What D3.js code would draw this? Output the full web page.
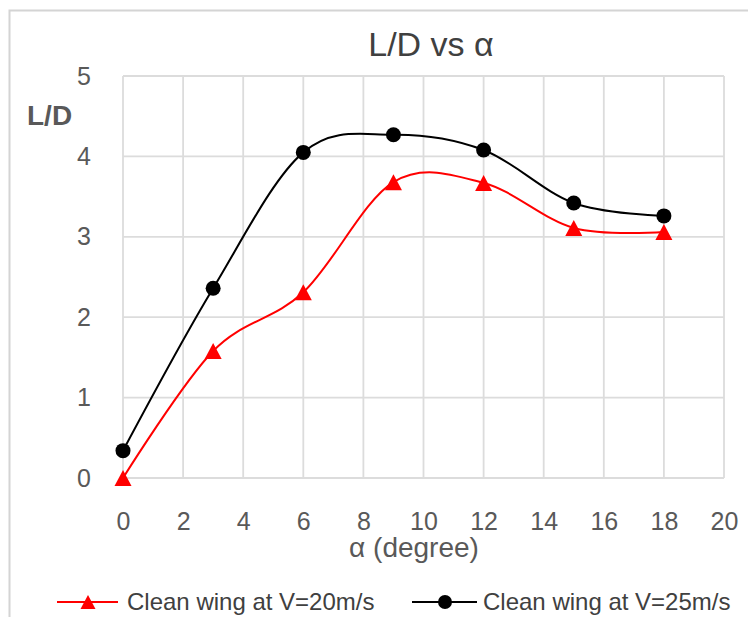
<!DOCTYPE html>
<html>
<head>
<meta charset="utf-8">
<script src="https://cdn.jsdelivr.net/npm/d3@7"></script>
<style>
  html, body { margin: 0; padding: 0; background: #fff; }
  svg { display: block; font-family: "Liberation Sans", Arial, sans-serif; }
</style>
</head>
<body>
<svg id="chart" width="748" height="617"></svg>
<script>
// Angle of attack (degrees) and lift-to-drag ratios
const alpha = [0, 3, 6, 9, 12, 15, 18];
const ldV20 = [0, 1.58, 2.31, 3.68, 3.67, 3.11, 3.06];
const ldV25 = [0.34, 2.36, 4.05, 4.27, 4.08, 3.42, 3.26];
const xTicks = [0, 2, 4, 6, 8, 10, 12, 14, 16, 18, 20];
const yTicks = [0, 1, 2, 3, 4, 5];
const seriesNames = ["Clean wing at V=20m/s", "Clean wing at V=25m/s"];

const svg = d3.select("#chart");

// chart frame
svg.append("rect")
  .attr("x", 9.5).attr("y", 10.5)
  .attr("width", 760).attr("height", 640)
  .attr("fill", "#fff")
  .attr("stroke", "#d4d4d4").attr("stroke-width", 2);

const plot = { left: 123, right: 724, top: 76, bottom: 478 };

const x = d3.scaleLinear().domain([0, 20]).range([plot.left, plot.right]);
const y = d3.scaleLinear().domain([0, 5]).range([plot.bottom, plot.top]);

// gridlines
const grid = svg.append("g").attr("stroke", "#dcdcdc").attr("stroke-width", 1.8);
grid.selectAll("line.v").data(xTicks).join("line")
  .attr("x1", d => x(d)).attr("x2", d => x(d))
  .attr("y1", plot.top).attr("y2", plot.bottom);
grid.selectAll("line.h").data(yTicks).join("line")
  .attr("x1", plot.left).attr("x2", plot.right)
  .attr("y1", d => y(d)).attr("y2", d => y(d));

// axes (labels only)
const xAxis = svg.append("g")
  .attr("transform", `translate(0,${plot.bottom})`)
  .call(d3.axisBottom(x).tickValues(xTicks).tickFormat(d3.format("d")).tickSize(0).tickPadding(34));
const yAxis = svg.append("g")
  .attr("transform", `translate(${plot.left},0)`)
  .call(d3.axisLeft(y).tickValues(yTicks).tickFormat(d3.format("d")).tickSize(0).tickPadding(32));
[xAxis, yAxis].forEach(a => {
  a.select(".domain").remove();
  a.selectAll("text")
    .attr("fill", "#595959")
    .style("font-size", "25px")
    .style("font-family", '"Liberation Sans", Arial, sans-serif');
});

// title and axis titles
svg.append("text")
  .attr("x", 431).attr("y", 56)
  .attr("text-anchor", "middle")
  .attr("fill", "#404040")
  .style("font-size", "34px")
  .text("L/D vs α");

svg.append("text")
  .attr("x", 27).attr("y", 125)
  .attr("fill", "#595959")
  .style("font-size", "28px")
  .style("font-weight", "bold")
  .text("L/D");

svg.append("text")
  .attr("x", 414).attr("y", 557)
  .attr("text-anchor", "middle")
  .attr("fill", "#595959")
  .style("font-size", "28px")
  .text("α (degree)");

// smoothed series lines
const line = d3.line().curve(d3.curveCardinal.tension(0));
const pts = vals => alpha.map((a, i) => [x(a), y(vals[i])]);

const triangle = (cx, cy, w, h) =>
  `M${cx},${cy - h / 2}L${cx + w / 2},${cy + h / 2}L${cx - w / 2},${cy + h / 2}Z`;

svg.append("path")
  .attr("d", line(pts(ldV20)))
  .attr("fill", "none").attr("stroke", "#ff0000").attr("stroke-width", 2);
svg.append("path")
  .attr("d", line(pts(ldV25)))
  .attr("fill", "none").attr("stroke", "#000").attr("stroke-width", 2);

svg.append("g").selectAll("path").data(pts(ldV20)).join("path")
  .attr("d", d => triangle(d[0], d[1], 17, 16))
  .attr("fill", "#ff0000");
svg.append("g").selectAll("circle").data(pts(ldV25)).join("circle")
  .attr("cx", d => d[0]).attr("cy", d => d[1]).attr("r", 7.5)
  .attr("fill", "#000");

// legend
const legY = 602;
const leg = svg.append("g");
leg.append("line").attr("x1", 57).attr("x2", 118).attr("y1", legY).attr("y2", legY)
  .attr("stroke", "#ff0000").attr("stroke-width", 2);
leg.append("path").attr("d", triangle(88, legY, 15, 14)).attr("fill", "#ff0000");
leg.append("text").attr("x", 127).attr("y", legY + 8)
  .attr("fill", "#404040").style("font-size", "24px").text(seriesNames[0]);

leg.append("line").attr("x1", 412).attr("x2", 477).attr("y1", legY).attr("y2", legY)
  .attr("stroke", "#000").attr("stroke-width", 2);
leg.append("circle").attr("cx", 445).attr("cy", legY).attr("r", 7).attr("fill", "#000");
leg.append("text").attr("x", 483).attr("y", legY + 8)
  .attr("fill", "#404040").style("font-size", "24px").text(seriesNames[1]);
</script>
</body>
</html>
